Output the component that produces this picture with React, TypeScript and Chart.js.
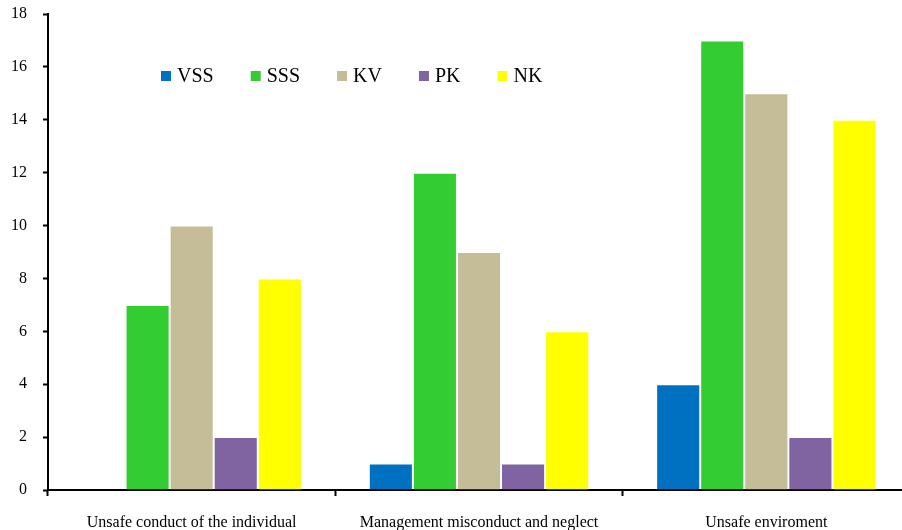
import React, { useEffect, useRef } from "react";
import { Chart, registerables } from "chart.js";

Chart.register(...registerables);

const categories = [
  "Unsafe conduct of the individual",
  "Management misconduct and neglect",
  "Unsafe enviroment",
];
const seriesNames = ["VSS", "SSS", "KV", "PK", "NK"];
const seriesColors = ["#0070C0", "#33CC33", "#C4BD97", "#8064A2", "#FFFF00"];
const vss = [0, 1, 4];
const sss = [7, 12, 17];
const kv = [10, 9, 15];
const pk = [2, 1, 2];
const nk = [8, 6, 14];
const yTicks = [0, 2, 4, 6, 8, 10, 12, 14, 16, 18];

const FONT = "'Liberation Serif', 'Times New Roman', serif";

// Legend drawn inside the plot area as a single row of square swatches.
const inlineLegend = {
  id: "inlineLegend",
  afterDraw(chart: any) {
    const { ctx, chartArea } = chart;
    ctx.save();
    ctx.font = `20px ${FONT}`;
    ctx.textBaseline = "middle";
    ctx.textAlign = "left";
    let x = chartArea.left + 113;
    const y = chartArea.top + 62;
    chart.data.datasets.forEach((ds: any) => {
      ctx.fillStyle = ds.backgroundColor;
      ctx.fillRect(x, y - 5, 10, 10);
      ctx.fillStyle = "#000";
      ctx.fillText(ds.label, x + 16, y + 1);
      x += 16 + ctx.measureText(ds.label).width + 37;
    });
    ctx.restore();
  },
};

export default function App() {
  const ref = useRef<HTMLCanvasElement>(null);

  useEffect(() => {
    if (!ref.current) return;
    const values = [vss, sss, kv, pk, nk];
    const chart = new Chart(ref.current, {
      type: "bar",
      data: {
        labels: categories,
        datasets: seriesNames.map((name, i) => ({
          label: name,
          data: values[i],
          backgroundColor: seriesColors[i],
          borderColor: "rgba(255,255,255,0.3)",
          borderWidth: 1,
          barPercentage: 1,
          categoryPercentage: 0.767,
        })),
      },
      options: {
        animation: false,
        responsive: false,
        devicePixelRatio: 1,
        layout: { padding: { left: 0, right: 2, top: 14, bottom: 0 } },
        plugins: {
          legend: { display: false },
          tooltip: { enabled: false },
        },
        scales: {
          x: {
            grid: {
              display: true,
              drawOnChartArea: false,
              offset: true,
              tickLength: 6,
              tickWidth: 2,
              tickColor: "#000",
            },
            border: { display: true, color: "#000", width: 2 },
            ticks: {
              color: "#000",
              font: { family: FONT, size: 16 },
              padding: 17,
              maxRotation: 0,
              autoSkip: false,
            },
            afterFit: (scale: any) => {
              scale.height = 40;
              scale.paddingLeft = 0;
              scale.paddingRight = 0;
            },
          },
          y: {
            min: 0,
            max: 18,
            afterBuildTicks: (scale: any) => {
              scale.ticks = yTicks.map((v) => ({ value: v }));
            },
            grid: {
              display: true,
              drawOnChartArea: false,
              tickLength: 5,
              tickWidth: 2,
              tickColor: "#000",
            },
            border: { display: true, color: "#000", width: 2 },
            ticks: {
              color: "#000",
              font: { family: FONT, size: 16 },
              padding: 16,
            },
            afterFit: (scale: any) => {
              scale.width = 48;
              scale.paddingTop = 0;
              scale.paddingBottom = 0;
            },
          },
        },
      },
      plugins: [inlineLegend],
    });
    return () => chart.destroy();
  }, []);

  return (
    <div
      style={{
        position: "fixed",
        left: 0,
        top: 0,
        width: 902,
        height: 530,
        overflow: "hidden",
        background: "#fff",
      }}
    >
      <canvas ref={ref} width={912} height={530} style={{ display: "block" }} />
    </div>
  );
}
